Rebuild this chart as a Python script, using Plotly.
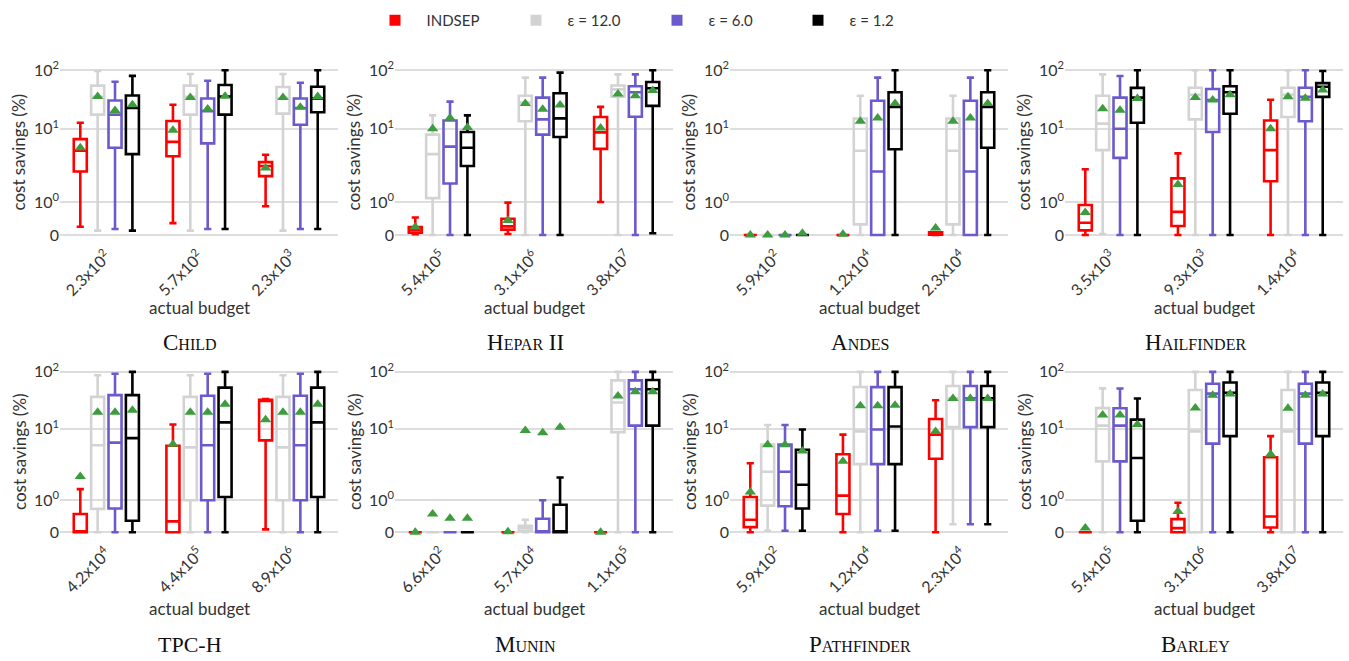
import math
import plotly.graph_objects as go

# ---------------- data (values in %, rows = INDSEP, eps 12.0, eps 6.0, eps 1.2) ----------------
METHODS = ["INDSEP", "ε = 12.0", "ε = 6.0", "ε = 1.2"]

CHILD_BUDGETS = ["2.3x10<sup>2</sup>", "5.7x10<sup>2</sup>", "2.3x10<sup>3</sup>"]
CHILD_LO = [[0.25, 0.36, 0.87], [0.13, 0.13, 0.13], [0.18, 0.18, 0.18], [0.13, 0.18, 0.18]]
CHILD_Q1 = [[2.6, 4.2, 2.25], [17.4, 17.4, 18.1], [5.5, 6.3, 11.7], [4.5, 17.4, 19.1]]
CHILD_MED = [[5.0, 6.6, 3.1], [35, 35, 33], [17.4, 20, 22.6], [22.6, 35.5, 32.9]]
CHILD_Q3 = [[7.2, 13.5, 3.5], [54.5, 54.5, 51.6], [30.4, 32.9, 32.9], [36.9, 55.8, 52]]
CHILD_HI = [[12.6, 25.7, 4.4], [97, 86, 86], [63.5, 66, 61], [80, 100, 100]]
CHILD_MEAN = [[5.5, 9.5, 2.9], [35.5, 34.2, 34], [20.4, 21.7, 23.3], [25.7, 36, 35.5]]

HEPAR_BUDGETS = ["5.4x10<sup>5</sup>", "3.1x10<sup>6</sup>", "3.8x10<sup>7</sup>"]
HEPAR_LO = [[0.02, 0.03, 1.0], [0, 0, 0], [0, 0, 0], [0, 0, 0.05]]
HEPAR_Q1 = [[0.07, 0.16, 5.3], [1.13, 13.4, 35.2], [1.79, 8.3, 16], [3.1, 7.7, 24.5]]
HEPAR_MED = [[0.16, 0.26, 8.9], [4.5, 28, 47], [5.7, 14.4, 42], [5.5, 15, 49]]
HEPAR_Q3 = [[0.24, 0.49, 15.8], [8.3, 36.6, 54.7], [13.8, 34, 53], [9.0, 40.3, 62.7]]
HEPAR_HI = [[0.53, 0.98, 23.6], [16.9, 74.5, 85], [29, 74.5, 85], [16.9, 91, 100]]
HEPAR_MEAN = [[0.24, 0.44, 10.3], [10, 27, 39], [15.3, 21.4, 36.6], [10.5, 25.5, 44.8]]

ANDES_BUDGETS = ["5.9x10<sup>2</sup>", "1.2x10<sup>4</sup>", "2.3x10<sup>4</sup>"]
ANDES_LO = [[0, 0, 0], [0, 0, 0], [0, 0, 0], [0, 0, 0]]
ANDES_Q1 = [[0, 0, 0.01], [0, 0.32, 0.32], [0, 0, 0], [0, 5.25, 5.5]]
ANDES_MED = [[0, 0, 0.04], [0, 5.0, 5.0], [0, 2.6, 2.6], [0, 23.6, 23.6]]
ANDES_Q3 = [[0, 0, 0.08], [0, 14.9, 14.9], [0, 30, 30], [0, 41.9, 41.9]]
ANDES_HI = [[0, 0, 0.08], [0, 36.6, 36.6], [0, 74.5, 74.5], [0, 100, 100]]
ANDES_MEAN = [[0, 0.02, 0.21], [0, 13.4, 13.4], [0, 15.3, 15.3], [0.05, 27, 27]]

HAIL_BUDGETS = ["3.5x10<sup>3</sup>", "9.3x10<sup>3</sup>", "1.4x10<sup>4</sup>"]
HAIL_LO = [[0, 0, 0], [0.03, 0, 0], [0, 0, 0], [0, 0, 0]]
HAIL_Q1 = [[0.14, 0.27, 1.92], [5.1, 14.4, 15.8], [4.0, 9.0, 13.4], [12.6, 18, 35]]
HAIL_MED = [[0.37, 0.70, 5.1], [12.2, 38, 38], [10, 30.8, 35], [34, 42, 52]]
HAIL_Q3 = [[0.91, 2.1, 13.8], [36.6, 50, 50], [34, 47.7, 50], [49.9, 53, 60]]
HAIL_HI = [[2.8, 4.6, 31.2], [85, 100, 100], [79.5, 100, 100], [100, 100, 97]]
HAIL_MEAN = [[0.68, 1.73, 10], [22, 34, 35.2], [20.6, 31, 33], [32.9, 38, 46]]

TPCH_BUDGETS = ["4.2x10<sup>4</sup>", "4.4x10<sup>5</sup>", "8.9x10<sup>6</sup>"]
TPCH_LO = [[0, 0, 0.09], [0, 0, 0], [0, 0, 0], [0, 0, 0]]
TPCH_Q1 = [[0, 0, 6.9], [0.73, 1.0, 1.0], [0.74, 1.0, 1.0], [0.36, 1.11, 1.11]]
TPCH_MED = [[0, 0.34, 31], [5.9, 5.5, 5.5], [6.4, 5.9, 5.9], [7.4, 13, 13]]
TPCH_Q3 = [[0.57, 5.8, 32.3], [36.4, 36.4, 36.4], [39, 38, 38], [39, 52.9, 52.9]]
TPCH_HI = [[1.43, 11.9, 33.5], [87.5, 87.5, 87.5], [93, 93, 93], [100, 100, 100]]
TPCH_MEAN = [[2.15, 6.1, 14.5], [19.5, 19.5, 19.5], [19.5, 19.5, 19.5], [21.3, 27, 27]]

MUNIN_BUDGETS = ["6.6x10<sup>2</sup>", "5.7x10<sup>4</sup>", "1.1x10<sup>5</sup>"]
MUNIN_LO = [[0, 0, 0], [0, 0, 0], [0, 0, 0], [0, 0, 0]]
MUNIN_Q1 = [[0, 0, 0], [0, 0.04, 9.0], [0, 0, 11.4], [0, 0, 11.4]]
MUNIN_MED = [[0, 0, 0], [0, 0.13, 29], [0, 0, 49.4], [0, 0, 49.4]]
MUNIN_Q3 = [[0, 0, 0], [0, 0.2, 70.8], [0, 0.42, 70.8], [0, 0.86, 72]]
MUNIN_HI = [[0, 0, 0], [0, 0.39, 100], [0, 1.0, 100], [0, 2.08, 100]]
MUNIN_MEAN = [[0, 0.02, 0], [0.57, 9.5, 37.8], [0.44, 8.8, 45], [0.44, 10.7, 45]]

PATH_BUDGETS = ["5.9x10<sup>2</sup>", "1.2x10<sup>4</sup>", "2.3x10<sup>4</sup>"]
PATH_LO = [[0, 0, 0], [0.05, 0, 0.25], [0.05, 0.05, 0.25], [0.05, 0.05, 0.25]]
PATH_Q1 = [[0.16, 0.57, 3.8], [0.83, 3.2, 10.7], [0.81, 3.2, 10.7], [0.74, 3.2, 10.7]]
PATH_MED = [[0.39, 1.16, 8.3], [2.5, 9.2, 34.5], [2.5, 9.8, 34.5], [1.65, 11, 34.5]]
PATH_Q3 = [[1.11, 4.4, 14.9], [6.0, 54.2, 56.4], [6.0, 54, 56.4], [5.1, 54, 56.4]]
PATH_HI = [[3.3, 8.3, 31.8], [11.7, 100, 100], [11.7, 100, 100], [9.8, 100, 100]]
PATH_MEAN = [[1.3, 3.5, 9.2], [6.0, 25.4, 34], [6.0, 25.4, 34], [4.9, 26, 34]]

BARLEY_BUDGETS = ["5.4x10<sup>5</sup>", "3.1x10<sup>6</sup>", "3.8x10<sup>7</sup>"]
BARLEY_LO = [[0, 0, 0], [0, 0, 0], [0, 0, 0], [0, 0, 0]]
BARLEY_Q1 = [[0, 0, 0.15], [3.5, 0, 0], [3.5, 6.2, 6.2], [0.36, 7.9, 7.9]]
BARLEY_MED = [[0, 0.13, 0.49], [11.4, 9.2, 9.2], [11.4, 41.5, 41.5], [3.9, 43, 43]]
BARLEY_Q3 = [[0, 0.41, 4.0], [23.1, 48, 48], [23, 62, 62], [14.5, 65, 65]]
BARLEY_HI = [[0, 0.92, 7.9], [51.4, 100, 100], [51, 100, 100], [34, 100, 100]]
BARLEY_MEAN = [[0.13, 0.65, 4.4], [17.5, 23.1, 23], [17.5, 38.9, 38.9], [11.9, 41, 41]]

Y_TICK_VALUES = [0, 1, 10, 100]
Y_TICK_TEXT = ["0", "10<sup>0</sup>", "10<sup>1</sup>", "10<sup>2</sup>"]

PANELS = [
    ("Child", CHILD_BUDGETS, CHILD_LO, CHILD_Q1, CHILD_MED, CHILD_Q3, CHILD_HI, CHILD_MEAN),
    ("Hepar II", HEPAR_BUDGETS, HEPAR_LO, HEPAR_Q1, HEPAR_MED, HEPAR_Q3, HEPAR_HI, HEPAR_MEAN),
    ("Andes", ANDES_BUDGETS, ANDES_LO, ANDES_Q1, ANDES_MED, ANDES_Q3, ANDES_HI, ANDES_MEAN),
    ("Hailfinder", HAIL_BUDGETS, HAIL_LO, HAIL_Q1, HAIL_MED, HAIL_Q3, HAIL_HI, HAIL_MEAN),
    ("TPC-H", TPCH_BUDGETS, TPCH_LO, TPCH_Q1, TPCH_MED, TPCH_Q3, TPCH_HI, TPCH_MEAN),
    ("Munin", MUNIN_BUDGETS, MUNIN_LO, MUNIN_Q1, MUNIN_MED, MUNIN_Q3, MUNIN_HI, MUNIN_MEAN),
    ("Pathfinder", PATH_BUDGETS, PATH_LO, PATH_Q1, PATH_MED, PATH_Q3, PATH_HI, PATH_MEAN),
    ("Barley", BARLEY_BUDGETS, BARLEY_LO, BARLEY_Q1, BARLEY_MED, BARLEY_Q3, BARLEY_HI, BARLEY_MEAN),
]

# ---------------- styling ----------------
COLORS = ["#ff0000", "#d3d3d3", "#6a5acd", "#000000"]
MEAN_COLOR = "#3d9c3d"
TEXT_COLOR = "#333333"
SANS = "Lato, 'Open Sans', sans-serif"
SERIF = "'Liberation Serif', 'DejaVu Serif', serif"

W, H = 1349, 661


def scale(v):
    """Symmetric-log style transform: linear on [0,1], logarithmic decades above."""
    if v <= 1:
        return 0.2 * v
    if v <= 10:
        return 0.2 + 0.445 * math.log10(v)
    return 0.645 + 0.355 * math.log10(v / 10)


def small_caps(name):
    if name.upper() == name:
        return f"<span style='font-size:22px'>{name}</span>"
    out = []
    for ch in name:
        if ch.islower():
            out.append(f"<span style='font-size:16px'>{ch.upper()}</span>")
        else:
            out.append(f"<span style='font-size:23px'>{ch}</span>")
    return "".join(out)


# panel geometry (pixels)
PANEL_LEFT0, PANEL_W, PANEL_STEP = 60, 278, 335
ROW_TOP = [(58.4, 241.0), (362.6, 540.4)]

fig = go.Figure()
layout_axes = {}
annotations = []

for idx, (name, budgets, lo, q1, med, q3, hi, mean) in enumerate(PANELS):
    r, c = divmod(idx, 4)
    n = idx + 1
    xa = "x" if n == 1 else f"x{n}"
    ya = "y" if n == 1 else f"y{n}"
    left = PANEL_LEFT0 + c * PANEL_STEP
    xdom = [left / W, (left + PANEL_W) / W]
    top, bot = ROW_TOP[r]
    ydom = [1 - bot / H, 1 - top / H]

    for m in range(4):
        fig.add_trace(go.Box(
            x=budgets,
            lowerfence=[scale(v) for v in lo[m]],
            q1=[scale(v) for v in q1[m]],
            median=[scale(v) for v in med[m]],
            q3=[scale(v) for v in q3[m]],
            upperfence=[scale(v) for v in hi[m]],
            name=METHODS[m], offsetgroup=f"g{m}",
            line=dict(color=COLORS[m], width=2.6),
            fillcolor="rgba(255,255,255,0)",
            whiskerwidth=0.55, boxpoints=False,
            showlegend=False, hoverinfo="skip",
            xaxis=xa, yaxis=ya,
        ))
    for m in range(4):
        fig.add_trace(go.Scatter(
            x=budgets, y=[scale(v) for v in mean[m]],
            mode="markers", offsetgroup=f"g{m}",
            marker=dict(symbol="triangle-up", size=10, color=MEAN_COLOR),
            showlegend=False, hoverinfo="skip",
            xaxis=xa, yaxis=ya,
        ))

    xkey = "xaxis" if n == 1 else f"xaxis{n}"
    ykey = "yaxis" if n == 1 else f"yaxis{n}"
    layout_axes[xkey] = dict(
        domain=xdom, anchor=ya, type="category", range=[-0.5, 2.5],
        showgrid=False, showline=False, zeroline=False, ticks="",
        tickangle=-45, tickfont=dict(family=SANS, size=16, color=TEXT_COLOR),
        fixedrange=True,
    )
    layout_axes[ykey] = dict(
        domain=ydom, anchor=xa, range=[-0.05, 1.05],
        tickvals=[scale(v) for v in Y_TICK_VALUES], ticktext=Y_TICK_TEXT,
        showgrid=True, gridcolor="#dddddd", gridwidth=1.5,
        showline=False, zeroline=False, ticks="",
        tickfont=dict(family=SANS, size=16, color=TEXT_COLOR),
        fixedrange=True,
    )

    dx = "x domain" if n == 1 else f"x{n} domain"
    dy = "y domain" if n == 1 else f"y{n} domain"
    xt_shift, tt_shift = (-64, -99) if r == 0 else (-68, -104)
    annotations.append(dict(
        text="actual budget", xref=dx, yref=dy, x=0.5, y=0, yshift=xt_shift,
        showarrow=False, xanchor="center", yanchor="middle",
        font=dict(family=SANS, size=17, color=TEXT_COLOR)))
    annotations.append(dict(
        text="cost savings (%)", xref=dx, yref=dy, x=0, y=0.5, xshift=-41,
        textangle=-90, showarrow=False, xanchor="center", yanchor="middle",
        font=dict(family=SANS, size=17, color=TEXT_COLOR)))
    annotations.append(dict(
        text=small_caps(name), xref=dx, yref=dy, x=0.5, y=0, xshift=-9,
        yshift=tt_shift, showarrow=False, xanchor="center", yanchor="middle",
        font=dict(family=SERIF, size=22, color="#111111")))

# legend entries
NBSP = "\u00a0"
for m in range(4):
    fig.add_trace(go.Scatter(
        x=[None], y=[None], mode="markers", name=NBSP * 3 + METHODS[m],
        marker=dict(symbol="square", size=11, color=COLORS[m]),
        showlegend=True, hoverinfo="skip",
    ))

fig.update_layout(
    width=W, height=H,
    margin=dict(l=0, r=0, t=0, b=0),
    paper_bgcolor="white", plot_bgcolor="white",
    boxmode="group", boxgap=0.25, boxgroupgap=0.25,
    scattermode="group", scattergap=0.25,
    showlegend=True,
    legend=dict(orientation="h", x=375 / W, xanchor="left", y=1.0, yanchor="top",
                font=dict(family=SANS, size=15, color=TEXT_COLOR),
                entrywidth=96, entrywidthmode="pixels", itemclick=False),
    annotations=annotations,
    **layout_axes,
)

fig.write_html(
    "out.html",
    config={"displayModeBar": False},
    post_script="document.body.style.margin='0px';document.body.style.overflow='hidden';",
)
